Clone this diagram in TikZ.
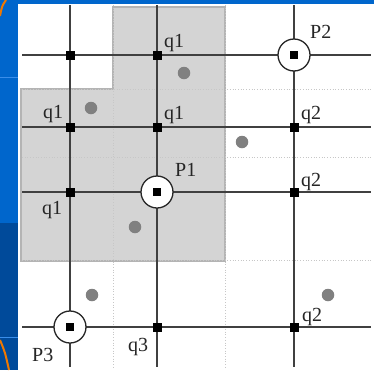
\documentclass[tikz,border=0pt]{standalone}
\usepackage{fontspec}
\setmainfont{Liberation Serif}
\definecolor{slideblue}{HTML}{0066CC}
\definecolor{slidedark}{HTML}{004A9A}
\definecolor{slidelight}{HTML}{3A8EEA}
\definecolor{slideorange}{HTML}{F07800}
\definecolor{regionfill}{HTML}{D4D4D4}
\definecolor{regionedge}{HTML}{B4B4B4}
\definecolor{dotgray}{HTML}{808080}
\definecolor{linegray}{HTML}{404040}
\begin{document}
\begin{tikzpicture}[x=1pt,y=-1pt,
  gridline/.style={draw=linegray, line width=1.7pt},
  faint/.style={draw=black!22, line width=0.7pt, dotted},
  sq/.style={rectangle, fill=black, draw=none, minimum size=9pt, inner sep=0pt},
  site/.style={circle, draw=black!85, fill=white, line width=1.3pt, minimum size=32pt, inner sep=0pt},
  sample/.style={circle, fill=dotgray, draw=none, minimum size=12.5pt, inner sep=0pt},
  lbl/.style={font=\fontsize{20}{20}\selectfont, inner sep=0pt, anchor=base west, text=black!85}]
\useasboundingbox (0,0) rectangle (374,370);
% slide background
\fill[white] (0,0) rectangle (374,370);
\fill[slideblue] (0,0) rectangle (374,4);
\fill[slideblue] (0,0) rectangle (18,223);
\fill[slidedark] (0,223) rectangle (18,370);
\draw[slidelight, line width=1pt] (0,337) -- (18,337);
\draw[slidelight, line width=1pt] (0,77) -- (18,77);
\draw[slideorange, line width=2pt] (6,0) .. controls (2,6) .. (0,16);
\draw[slideorange, line width=2pt] (0,340) .. controls (5,352) .. (9,370);
% shaded region
\filldraw[fill=regionfill, draw=regionedge, line width=1.5pt]
  (21,89) -- (113,89) -- (113,7) -- (225,7) -- (225,261) -- (21,261) -- cycle;
% faint dotted grid
\coordinate (fv1t) at (113,5);   \coordinate (fv1b) at (113,368);
\coordinate (fv2t) at (225,5);   \coordinate (fv2b) at (225,368);
\coordinate (fh1l) at (22,89);   \coordinate (fh1r) at (372,89);
\coordinate (fh2l) at (22,157);  \coordinate (fh2r) at (372,157);
\coordinate (fh3l) at (22,260);  \coordinate (fh3r) at (372,260);
\draw[faint] (fv1t) -- (fv1b);
\draw[faint] (fv2t) -- (fv2b);
\draw[faint] (fh1l) -- (fh1r);
\draw[faint] (fh2l) -- (fh2r);
\draw[faint] (fh3l) -- (fh3r);
% main grid
\coordinate (v1t) at (70,5);   \coordinate (v1b) at (70,367);
\coordinate (v2t) at (157,5);  \coordinate (v2b) at (157,367);
\coordinate (v3t) at (294,5);  \coordinate (v3b) at (294,367);
\coordinate (h1l) at (22,55);  \coordinate (h1r) at (371,55);
\coordinate (h2l) at (22,127); \coordinate (h2r) at (371,127);
\coordinate (h3l) at (22,192); \coordinate (h3r) at (371,192);
\coordinate (h4l) at (22,327); \coordinate (h4r) at (371,327);
\draw[gridline] (v1t) -- (v1b);
\draw[gridline] (v2t) -- (v2b);
\draw[gridline] (v3t) -- (v3b);
\draw[gridline] (h1l) -- (h1r);
\draw[gridline] (h2l) -- (h2r);
\draw[gridline] (h3l) -- (h3r);
\draw[gridline] (h4l) -- (h4r);
% sample points
\node[sample] (s1) at (184,73) {};
\node[sample] (s2) at (91,108) {};
\node[sample] (s3) at (242,142) {};
\node[sample] (s4) at (135,227) {};
\node[sample] (s5) at (92,295) {};
\node[sample] (s6) at (328,295) {};
% sites
\node[site] (P1) at (157,192) {};
\node[site] (P2) at (294,55) {};
\node[site] (P3) at (70,327) {};
\node[sq, minimum size=8.5pt] (P1c) at (157,192) {};
\node[sq, minimum size=8.5pt] (P2c) at (294,55) {};
\node[sq, minimum size=8.5pt] (P3c) at (70,327) {};
% grid vertices
\node[sq] (a) at (70,55) {};
\node[sq] (b) at (157,55) {};
\node[sq] (c) at (70,127) {};
\node[sq] (d) at (157,127) {};
\node[sq] (e) at (294,127) {};
\node[sq] (f) at (70,192) {};
\node[sq] (g) at (294,192) {};
\node[sq] (h) at (157,327) {};
\node[sq] (i) at (294,327) {};
% labels
\node[lbl] (lb) at (164,47) {q1};
\node[lbl] (ld) at (164,119) {q1};
\node[lbl] (lc) at (43,118) {q1};
\node[lbl] (lf) at (42,214) {q1};
\node[lbl] (le) at (301,119) {q2};
\node[lbl] (lg) at (301,186) {q2};
\node[lbl] (li) at (302,321) {q2};
\node[lbl] (lh) at (128,351) {q3};
\node[lbl] (lP1) at (175,176) {P1};
\node[lbl] (lP2) at (310,38) {P2};
\node[lbl] (lP3) at (32,361) {P3};
\end{tikzpicture}
\end{document}
